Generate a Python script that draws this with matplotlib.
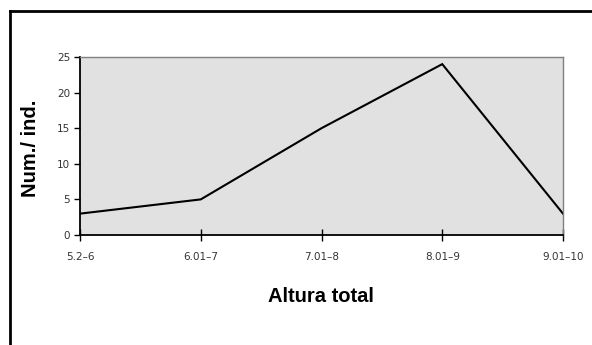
import matplotlib.pyplot as plt
from matplotlib.lines import Line2D

# datos
categorias = ['5.2–6', '6.01–7', '7.01–8', '8.01–9', '9.01–10']
valores = [3, 5, 15, 24, 3]
yticks = [0, 5, 10, 15, 20, 25]

W, H = 592, 345
fig = plt.figure(figsize=(W / 100, H / 100), dpi=100, facecolor='w')

# area del grafico (pixeles -> fraccion)
left, right, top, bottom = 80, 563, 57, 235
ax = fig.add_axes([left / W, 1 - bottom / H, (right - left) / W, (bottom - top) / H])
ax.set_facecolor('#e1e1e1')

x = list(range(len(categorias)))
ax.plot(x, valores, color='black', linewidth=1.5, solid_joinstyle='miter')

ax.set_xlim(0, len(categorias) - 1)
ax.set_ylim(0, 25)
ax.set_xticks(x)
ax.set_xticklabels(categorias)
ax.set_yticks(yticks)

ax.tick_params(axis='x', direction='inout', length=8, width=1, color='black',
               labelsize=7.5, labelcolor='#333333', pad=8)
ax.tick_params(axis='y', direction='out', length=4, width=1, color='black',
               labelsize=7.5, labelcolor='#333333', pad=3)

for s in ['left', 'bottom']:
    ax.spines[s].set_color('black')
    ax.spines[s].set_linewidth(1.3)
for s in ['top', 'right']:
    ax.spines[s].set_color('#808080')
    ax.spines[s].set_linewidth(1)

fig.text(321 / W, 1 - 297 / H, 'Altura total', ha='center', va='center',
         fontsize=14.5, fontweight='bold', family='Liberation Sans')
fig.text(31 / W, 1 - 148 / H, 'Num./ ind.', ha='center', va='center',
         rotation=90, fontsize=14.5, fontweight='bold', family='Liberation Sans')

# marco exterior (solo arriba e izquierda visibles)
fig.add_artist(Line2D([10 / W, 10 / W], [1 - 11 / H, 0], color='black',
                      linewidth=2, transform=fig.transFigure))
fig.add_artist(Line2D([10 / W, 1], [1 - 11 / H, 1 - 11 / H], color='black',
                      linewidth=2, transform=fig.transFigure))

plt.savefig('out.png', dpi=100)
